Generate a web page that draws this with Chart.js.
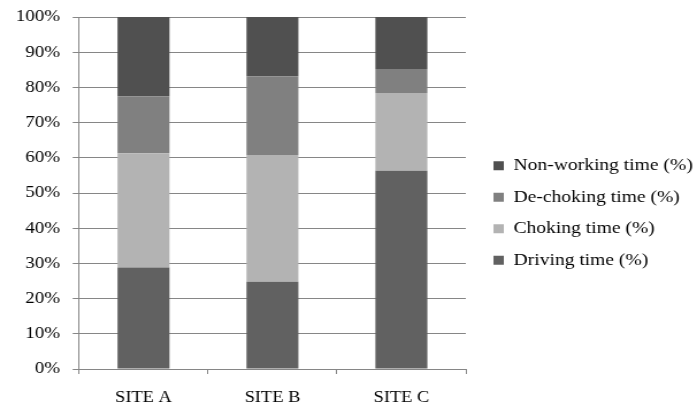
<!DOCTYPE html>
<html>
<head>
<meta charset="utf-8">
<style>
  html, body { margin: 0; padding: 0; background: #ffffff; overflow: hidden; }
  /* the chart is laid out on a narrower canvas and widened to the page width */
  #wrap { width: 606px; height: 409px; transform: scaleX(1.1502); transform-origin: 0 0; }
</style>
<script src="https://cdn.jsdelivr.net/npm/chart.js@4/dist/chart.umd.min.js"></script>
</head>
<body>
<div id="wrap"><canvas id="c" width="606" height="409"></canvas></div>
<script>
// Share of each activity in total time per site (percent)
const sites = ["SITE A", "SITE B", "SITE C"];
const drivingTime    = [28.8, 24.8, 56.3];
const chokingTime    = [32.5, 36.0, 22.1];
const dechokingTime  = [16.2, 22.4, 6.8];
const nonWorkingTime = [22.5, 16.8, 14.8];
const yTicks = [0, 10, 20, 30, 40, 50, 60, 70, 80, 90, 100];

const serif = "'Liberation Serif', 'Times New Roman', serif";
const gridGrey = "#868686";

// moves the legend block a little to the right and lets it run to the canvas edge
const legendOffset = {
  id: "legendOffset",
  afterLayout(chart) {
    const lg = chart.legend;
    if (!lg) return;
    lg.left += 9.5;
    lg.right = chart.width;
    lg.width = lg.right - lg.left;
  }
};

const chart = new Chart(document.getElementById("c"), {
  type: "bar",
  data: {
    labels: sites,
    datasets: [
      { label: "Driving time (%)",     data: drivingTime,    backgroundColor: "#616161" },
      { label: "Choking time (%)",     data: chokingTime,    backgroundColor: "#b3b3b3" },
      { label: "De-choking time (%)",  data: dechokingTime,  backgroundColor: "#808080" },
      { label: "Non-working time (%)", data: nonWorkingTime, backgroundColor: "#505050" }
    ]
  },
  plugins: [legendOffset],
  options: {
    responsive: false,
    animation: false,
    layout: { padding: { left: 0, right: 66, top: 17, bottom: 0 } },
    datasets: { bar: { categoryPercentage: 0.403, barPercentage: 1.0 } },
    plugins: {
      tooltip: { enabled: false },
      legend: {
        position: "right",
        reverse: true,
        labels: {
          boxWidth: 9,
          boxHeight: 9,
          padding: 14.5,
          color: "#000",
          font: { family: serif, size: 17 }
        }
      }
    },
    scales: {
      x: {
        stacked: true,
        grid: { display: true, drawOnChartArea: false, color: gridGrey, tickLength: 5, offset: true },
        border: { color: gridGrey, width: 1 },
        ticks: { color: "#000", font: { family: serif, size: 16 }, padding: 14 },
        afterFit: (s) => { s.height = 40; }
      },
      y: {
        stacked: true,
        min: 0,
        max: 100,
        afterBuildTicks: (axis) => { axis.ticks = yTicks.map(v => ({ value: v })); },
        grid: { color: gridGrey, lineWidth: 1, tickLength: 5.5 },
        border: { color: gridGrey, width: 1 },
        ticks: { color: "#000", font: { family: serif, size: 16.5 }, padding: 11, callback: v => v + "%" },
        afterFit: (s) => { s.width = 68.7; s.paddingTop = 0; s.paddingBottom = 0; }
      }
    }
  }
});

// redraw once the serif face is ready so legend text is measured and drawn with it
if (document.fonts && document.fonts.ready) {
  document.fonts.ready.then(() => chart.update());
}
</script>
</body>
</html>
